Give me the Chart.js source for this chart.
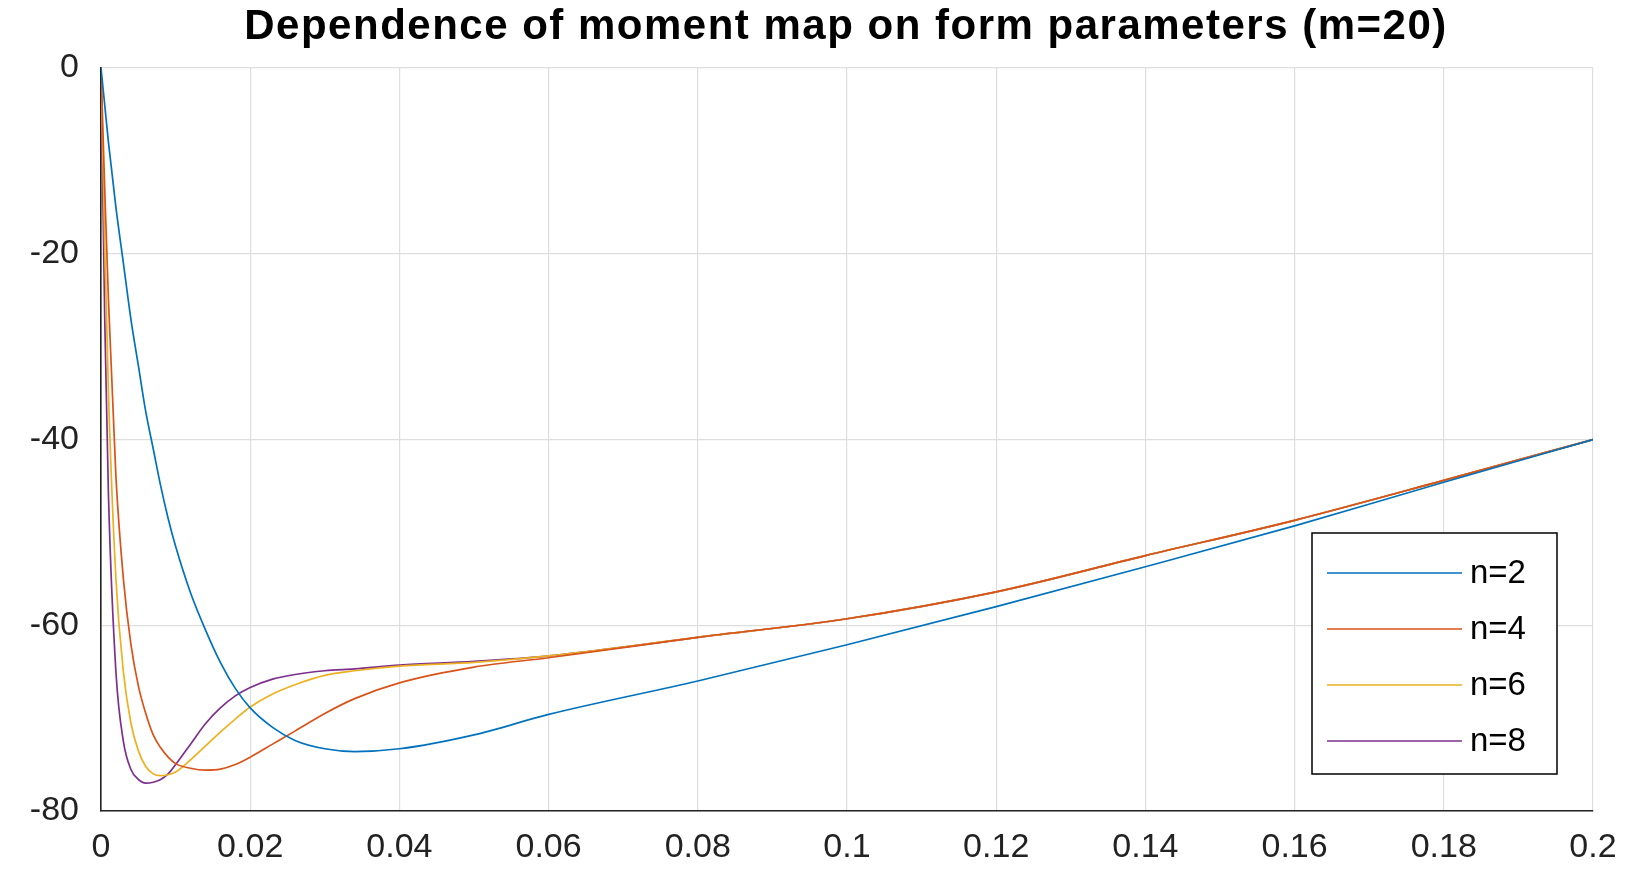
<!DOCTYPE html>
<html>
<head>
<meta charset="utf-8">
<script src="https://cdn.jsdelivr.net/npm/chart.js@4/dist/chart.umd.min.js"></script>
<style>
  html, body { margin: 0; padding: 0; background: #fff; }
  #wrap { width: 1639px; height: 891px; }
</style>
</head>
<body>
<div id="wrap"><canvas id="c"></canvas></div>
<script>
// x positions (shared by all curves)
const xs = [0, 0.0005, 0.001, 0.002, 0.003, 0.004, 0.005, 0.006, 0.007, 0.008, 0.009, 0.010, 0.012, 0.014,
  0.016, 0.018, 0.020, 0.023, 0.026, 0.030, 0.034, 0.040, 0.050, 0.060, 0.080, 0.100, 0.120, 0.140,
  0.160, 0.180, 0.200];

const n2 = [0, -4, -8, -15, -21, -27, -32, -37, -41, -45, -48.5, -51.5, -56.5, -60.5,
  -64, -66.8, -68.9, -71, -72.4, -73.3, -73.6, -73.3, -71.8, -69.6, -66.0, -62.1, -58.0, -53.7,
  -49.3, -44.6, -40];
const n4 = [0, -13, -25, -44, -55, -62, -66.5, -69.5, -71.8, -73.2, -74.2, -74.9, -75.4, -75.6,
  -75.5, -75.0, -74.2, -72.8, -71.4, -69.5, -67.9, -66.2, -64.5, -63.5, -61.3, -59.3, -56.4, -52.5,
  -48.7, -44.4, -40];
const n6 = [0, -19, -35, -55, -65, -70.5, -73.5, -75.2, -76.0, -76.2, -76.1, -75.8, -74.5, -73.0,
  -71.5, -70.1, -68.8, -67.4, -66.4, -65.4, -64.9, -64.4, -64.0, -63.3, -61.3, -59.3, -56.4, -52.5,
  -48.7, -44.4, -40];
const n8 = [0, -27, -46, -65, -72.5, -75.5, -76.6, -77.0, -76.9, -76.6, -76.0, -75.0, -72.8, -70.6,
  -68.9, -67.6, -66.7, -65.8, -65.3, -64.9, -64.7, -64.3, -63.9, -63.3, -61.3, -59.3, -56.4, -52.5,
  -48.7, -44.4, -40];

const seriesNames = ['n=2', 'n=4', 'n=6', 'n=8'];
const seriesValues = [n2, n4, n6, n8];
const seriesColors = ['#0072BD', '#D95319', '#EDB120', '#7E2F8E'];
const titleText = 'Dependence of moment map on form parameters (m=20)';

const datasets = seriesValues.map((vals, i) => ({
  label: seriesNames[i],
  data: xs.map((x, k) => ({ x: x, y: vals[k] })),
  borderColor: seriesColors[i],
  borderWidth: 1.7,
  pointRadius: 0,
  fill: false,
  cubicInterpolationMode: 'monotone'
}));

const FONT = 'Arial, "Liberation Sans", sans-serif';

// title + legend box drawn by hand, matlab style
const decor = {
  id: 'decor',
  afterDraw(chart) {
    const ctx = chart.ctx;
    ctx.save();
    ctx.fillStyle = '#000';
    ctx.font = 'bold 42px ' + FONT;
    ctx.letterSpacing = '1.5px';
    ctx.textAlign = 'center';
    ctx.textBaseline = 'middle';
    ctx.fillText(titleText, 846, 27);
    ctx.letterSpacing = '0px';

    const bx = 1312, by = 533, bw = 245, bh = 241;
    ctx.fillStyle = '#fff';
    ctx.fillRect(bx, by, bw, bh);
    ctx.strokeStyle = '#000';
    ctx.lineWidth = 1.5;
    ctx.strokeRect(bx, by, bw, bh);
    ctx.font = '33px ' + FONT;
    ctx.textAlign = 'left';
    chart.data.datasets.forEach((ds, i) => {
      const y = by + 40 + i * 56;
      ctx.strokeStyle = ds.borderColor;
      ctx.lineWidth = 1.7;
      ctx.beginPath();
      ctx.moveTo(bx + 15, y);
      ctx.lineTo(bx + 150, y);
      ctx.stroke();
      ctx.fillStyle = '#000';
      ctx.fillText(ds.label, bx + 158, y + 1);
    });
    ctx.restore();
  }
};

new Chart(document.getElementById('c'), {
  type: 'line',
  data: { datasets: datasets },
  options: {
    responsive: true,
    maintainAspectRatio: false,
    animation: false,
    layout: { padding: { top: 68, right: 46, left: 0, bottom: 0 } },
    plugins: { legend: { display: false }, title: { display: false }, tooltip: { enabled: false } },
    scales: {
      x: {
        type: 'linear',
        min: 0, max: 0.2,
        afterFit(s) { s.height = 80; },
        grid: { color: '#dedede', lineWidth: 1.2, tickLength: 0 },
        border: { color: '#222', width: 1.6 },
        ticks: {
          stepSize: 0.02,
          color: '#222',
          padding: 16,
          font: { size: 34, family: FONT },
          callback: v => Number(v.toFixed(2)).toString()
        }
      },
      y: {
        min: -80, max: 0,
        afterFit(s) { s.width = 101; },
        grid: { color: '#dedede', lineWidth: 1.2, tickLength: 0 },
        border: { color: '#222', width: 1.6 },
        ticks: {
          stepSize: 20,
          color: '#222',
          padding: 22,
          font: { size: 34, family: FONT }
        }
      }
    }
  },
  plugins: [decor]
});
</script>
</body>
</html>
